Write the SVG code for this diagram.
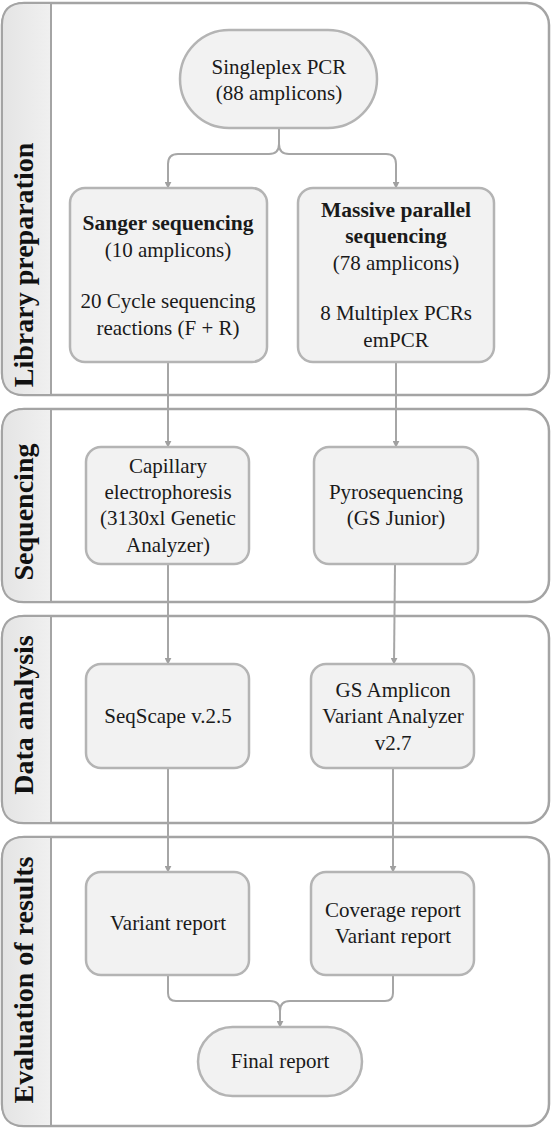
<svg xmlns="http://www.w3.org/2000/svg" width="553" height="1128" viewBox="0 0 553 1128">
<defs>
<style>
.lane{fill:#ffffff;stroke:#a4a4a4;stroke-width:2.5}
.head{stroke:#a4a4a4;stroke-width:2}
.node{fill:#f2f2f2;stroke:#b4b4b4;stroke-width:2.5}
.t{font-family:"Liberation Serif",serif;font-size:21px;fill:#1a1a1a;text-anchor:middle}
.b{font-weight:bold;font-size:21.5px}
.h{font-family:"Liberation Serif",serif;font-size:28px;font-weight:bold;fill:#111;text-anchor:middle}
.c{fill:none;stroke:#a6a6a6;stroke-width:2}
</style>
<marker id="arr" viewBox="0 0 10 10" refX="9" refY="5" markerWidth="7" markerHeight="7" orient="auto" markerUnits="userSpaceOnUse">
<path d="M0,0 L10,5 L0,10 z" fill="#a0a0a0"/>
</marker>
<linearGradient id="hg" x1="0" y1="0" x2="1" y2="0">
<stop offset="0" stop-color="#e4e4e4"/><stop offset="1" stop-color="#f0f0f0"/>
</linearGradient>
</defs>

<g id="lane-library">
<rect class="lane" x="2" y="3" width="547" height="392" rx="22"/>
<path class="head" fill="url(#hg)" d="M51,3 L24,3 Q2,3 2,25 L2,373 Q2,395 24,395 L51,395 Z"/>
<text class="h" transform="translate(33,265) rotate(-90)">Library preparation</text>
</g>
<g id="lane-sequencing">
<rect class="lane" x="2" y="409" width="547" height="193" rx="22"/>
<path class="head" fill="url(#hg)" d="M51,409 L24,409 Q2,409 2,431 L2,580 Q2,602 24,602 L51,602 Z"/>
<text class="h" transform="translate(33,512) rotate(-90)">Sequencing</text>
</g>
<g id="lane-data">
<rect class="lane" x="2" y="616" width="547" height="207" rx="22"/>
<path class="head" fill="url(#hg)" d="M51,616 L24,616 Q2,616 2,638 L2,801 Q2,823 24,823 L51,823 Z"/>
<text class="h" transform="translate(33,715) rotate(-90)">Data analysis</text>
</g>
<g id="lane-evaluation">
<rect class="lane" x="2" y="837" width="547" height="289" rx="22"/>
<path class="head" fill="url(#hg)" d="M51,837 L24,837 Q2,837 2,859 L2,1104 Q2,1126 24,1126 L51,1126 Z"/>
<text class="h" transform="translate(33,980) rotate(-90)">Evaluation of results</text>
</g>

<g id="connectors">
<path class="c" d="M279,128 L279,144 Q279,154 269,154 L178,154 Q168,154 168,164 L168,188" marker-end="url(#arr)"/>
<path class="c" d="M279,144 Q279,154 289,154 L386,154 Q396,154 396,164 L396,188" marker-end="url(#arr)"/>
<path class="c" d="M168,362 L168,447" marker-end="url(#arr)"/>
<path class="c" d="M396,362 L396,447" marker-end="url(#arr)"/>
<path class="c" d="M168,564 L168,664" marker-end="url(#arr)"/>
<path class="c" d="M395,564 L394,664" marker-end="url(#arr)"/>
<path class="c" d="M168,768 L168,872" marker-end="url(#arr)"/>
<path class="c" d="M393,768 L393,872" marker-end="url(#arr)"/>
<path class="c" d="M168,975 L168,993 Q168,1001 176,1001 L270,1001 Q280,1001 280,1011 L280,1027" marker-end="url(#arr)"/>
<path class="c" d="M393,975 L393,993 Q393,1001 385,1001 L290,1001 Q280,1001 280,1011"/>
</g>

<g id="n-singleplex">
<rect class="node" x="180" y="30" width="197" height="98" rx="49"/>
<text class="t" x="279" y="74">Singleplex PCR</text>
<text class="t" x="279" y="100">(88 amplicons)</text>
</g>
<g id="n-sanger">
<rect class="node" x="70" y="188" width="197" height="174" rx="15"/>
<text class="t b" x="168" y="230">Sanger sequencing</text>
<text class="t" x="168" y="257">(10 amplicons)</text>
<text class="t" x="168" y="308">20 Cycle sequencing</text>
<text class="t" x="168" y="335">reactions (F + R)</text>
</g>
<g id="n-massive">
<rect class="node" x="298" y="188" width="196" height="174" rx="15"/>
<text class="t b" x="396" y="217">Massive parallel</text>
<text class="t b" x="396" y="243">sequencing</text>
<text class="t" x="396" y="270">(78 amplicons)</text>
<text class="t" x="396" y="320">8 Multiplex PCRs</text>
<text class="t" x="396" y="347">emPCR</text>
</g>
<g id="n-capillary">
<rect class="node" x="86" y="447" width="163" height="117" rx="15"/>
<text class="t" x="168" y="473">Capillary</text>
<text class="t" x="168" y="499">electrophoresis</text>
<text class="t" x="168" y="525">(3130xl Genetic</text>
<text class="t" x="168" y="552">Analyzer)</text>
</g>
<g id="n-pyro">
<rect class="node" x="314" y="447" width="164" height="117" rx="15"/>
<text class="t" x="396" y="499">Pyrosequencing</text>
<text class="t" x="396" y="525">(GS Junior)</text>
</g>
<g id="n-seqscape">
<rect class="node" x="86" y="664" width="163" height="104" rx="15"/>
<text class="t" x="168" y="723">SeqScape v.2.5</text>
</g>
<g id="n-gsava">
<rect class="node" x="311" y="664" width="163" height="104" rx="15"/>
<text class="t" x="393" y="697">GS Amplicon</text>
<text class="t" x="393" y="723">Variant Analyzer</text>
<text class="t" x="393" y="750">v2.7</text>
</g>
<g id="n-variant">
<rect class="node" x="86" y="872" width="163" height="103" rx="15"/>
<text class="t" x="168" y="930">Variant report</text>
</g>
<g id="n-coverage">
<rect class="node" x="311" y="872" width="163" height="103" rx="15"/>
<text class="t" x="393" y="917">Coverage report</text>
<text class="t" x="393" y="943">Variant report</text>
</g>
<g id="n-final">
<rect class="node" x="198" y="1027" width="164" height="69" rx="34.5"/>
<text class="t" x="280" y="1068">Final report</text>
</g>
</svg>
